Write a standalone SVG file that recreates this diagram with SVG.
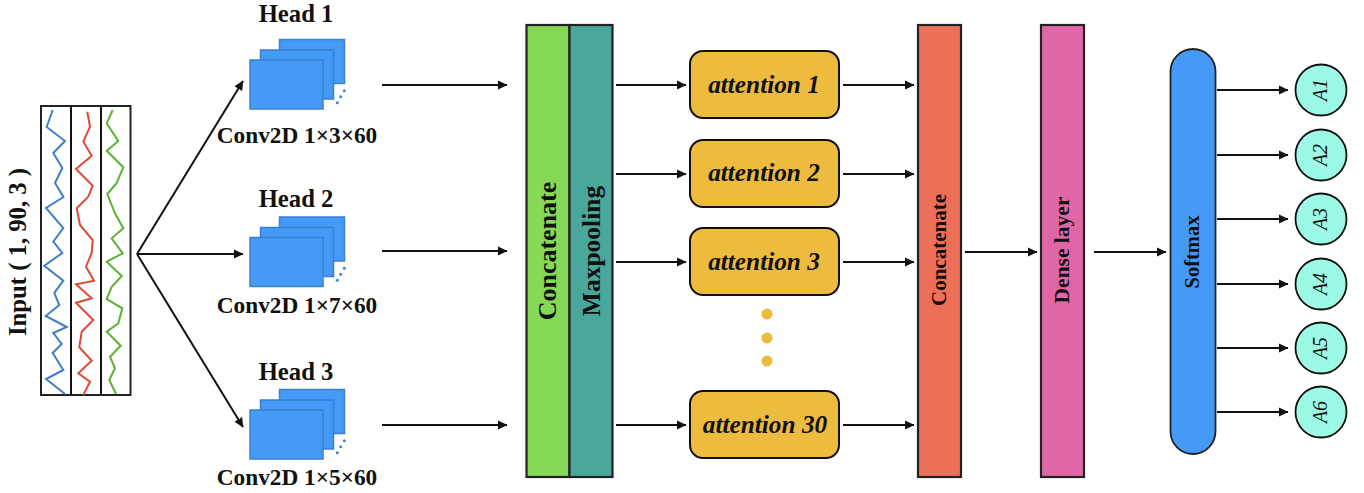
<svg xmlns="http://www.w3.org/2000/svg" width="1364" height="493" viewBox="0 0 1364 493">
<style>
text{font-family:"Liberation Serif","Times New Roman",serif;font-weight:bold;fill:#111}
.b{stroke:#222;stroke-width:2.2}
.c{fill:none;stroke:#111;stroke-width:2}
.l{fill:#449af6;stroke:#3a80d0;stroke-width:1.5}
.t{font-size:24.700px;text-anchor:middle}
.cv{font-size:23.300px;text-anchor:middle}
.at{font-size:25.300px;font-style:italic;text-anchor:middle}
.att{fill:#edbb3d;stroke:#111;stroke-width:2}
.o{fill:#9bf9e6;stroke:#111;stroke-width:1.800}
.ot{font-size:20px;font-style:italic;font-weight:normal;text-anchor:middle}
.d{fill:#3d86d6}
.y{fill:#edbb3d}
.w{fill:none;stroke-width:2}
</style>
<defs><marker id="a" markerUnits="userSpaceOnUse" markerWidth="10" markerHeight="10" refX="9" refY="5" orient="auto"><path d="M0,0.500L9.500,5L0,9.500z" fill="#111"/></marker></defs>
<g id="input">
<rect x="41" y="106" width="89.500" height="289" fill="#fff" stroke="#222" stroke-width="2"/>
<path d="M71,106V395M101,106V395" stroke="#111" stroke-width="2"/>
<polyline class="w" stroke="#3f7fc4" points="52.700,110 46.700,127 65,141 53.300,153 62.300,168 55,183 63.500,197 46,208 63.300,228 53.300,241.700 62.300,253 44.300,265.700 63.300,280.700 54.300,293 59.300,305 45.700,316 66.700,327 53.300,333 61.700,344 52.700,353 63.300,370 46,379 65,394"/>
<polyline class="w" stroke="#df4a36" points="87.300,111.700 90,126.700 83.300,141.700 91.700,155.700 76,169 92.700,185.700 88.300,196.700 76.700,208.300 80,225 92.700,240 91.700,253 86,266.700 94,280.700 76,284.300 91.700,298.300 76,302.700 93.300,320 81.700,331.700 79.300,347.300 91.700,360.700 78.300,373.300 90,381.700 83.300,395"/>
<polyline class="w" stroke="#5bb332" points="112.700,110 106.700,123.300 118.300,141 106.700,150.700 123.300,167.300 116.700,183 107.300,194 115,213.300 123.300,228.300 111.700,238.300 122.700,253.300 106.700,261.700 121.700,276 111.700,286.700 106.700,299 122.300,308.300 118.300,323.300 106.700,331.700 120.700,345.700 110,356.700 115,368.300 109.300,380 116,394"/>
</g>
<text transform="translate(26,252) rotate(-90)" class="t">Input ( 1, 90, 3 )</text>
<g id="head1"><text x="296" y="22" class="t">Head 1</text>
<rect class="l" x="279.500" y="39.500" width="65" height="44"/><rect class="l" x="260.500" y="50" width="73" height="49"/><rect class="l" x="250" y="60" width="73" height="49"/>
<circle class="d" cx="344.300" cy="90.700" r="1.500"/><circle class="d" cx="340.700" cy="96.700" r="1.500"/><circle class="d" cx="337.300" cy="102.700" r="1.500"/>
<text x="297" y="143" class="cv">Conv2D 1×3×60</text></g>
<g id="head2"><text x="296" y="207" class="t">Head 2</text>
<rect class="l" x="279.500" y="217" width="65" height="44"/><rect class="l" x="260.500" y="227.500" width="73" height="49"/><rect class="l" x="250" y="237.500" width="73" height="49"/>
<circle class="d" cx="344.300" cy="268.200" r="1.500"/><circle class="d" cx="340.700" cy="274.200" r="1.500"/><circle class="d" cx="337.300" cy="280.200" r="1.500"/>
<text x="297" y="313" class="cv">Conv2D 1×7×60</text></g>
<g id="head3"><text x="296" y="380" class="t">Head 3</text>
<rect class="l" x="279.500" y="389.500" width="65" height="44"/><rect class="l" x="260.500" y="400" width="73" height="49"/><rect class="l" x="250" y="410" width="73" height="49"/>
<circle class="d" cx="344.300" cy="440.700" r="1.500"/><circle class="d" cx="340.700" cy="446.700" r="1.500"/><circle class="d" cx="337.300" cy="452.700" r="1.500"/>
<text x="297" y="485" class="cv">Conv2D 1×5×60</text></g>
<g id="concat1"><rect class="b" x="526.500" y="25" width="43" height="452" fill="#85d956"/><text transform="translate(556,251) rotate(-90)" style="font-size:26px;text-anchor:middle">Concatenate</text></g>
<g id="maxpool"><rect class="b" x="569.500" y="25" width="43" height="452" fill="#4aa79c"/><text transform="translate(600,251) rotate(-90)" style="font-size:25.500px;text-anchor:middle">Maxpooling</text></g>
<g id="attention1"><rect class="att" x="690" y="51" width="149" height="67" rx="13"/><text x="764" y="93" class="at">attention 1</text></g>
<g id="attention2"><rect class="att" x="690" y="140" width="149" height="67" rx="13"/><text x="764" y="181" class="at">attention 2</text></g>
<g id="attention3"><rect class="att" x="690" y="228" width="149" height="67" rx="13"/><text x="764" y="270" class="at">attention 3</text></g>
<g id="dots"><circle class="y" cx="767" cy="314" r="5.500"/><circle class="y" cx="767" cy="338" r="5.500"/><circle class="y" cx="767" cy="361" r="5.500"/></g>
<g id="attention30"><rect class="att" x="690" y="391" width="149" height="67" rx="13"/><text x="765" y="433" class="at">attention 30</text></g>
<g id="concat2"><rect class="b" x="918" y="25" width="43" height="452" fill="#ee6f57"/><text transform="translate(946,250) rotate(-90)" style="font-size:21px;text-anchor:middle">Concatenate</text></g>
<g id="dense"><rect class="b" x="1041" y="25" width="43" height="452" fill="#e066a5"/><text transform="translate(1069,250) rotate(-90)" style="font-size:21.500px;text-anchor:middle">Dense layer</text></g>
<g id="softmax"><rect x="1170.500" y="49" width="45" height="405" rx="22.500" fill="#449af6" stroke="#222" stroke-width="1.800"/><text transform="translate(1199,252) rotate(-90)" style="font-size:20.500px;text-anchor:middle">Softmax</text></g>
<g id="a1"><circle class="o" cx="1321" cy="90" r="25.500"/><text transform="translate(1327,90) rotate(-90)" class="ot">A1</text></g>
<g id="a2"><circle class="o" cx="1321" cy="155" r="25.500"/><text transform="translate(1327,155) rotate(-90)" class="ot">A2</text></g>
<g id="a3"><circle class="o" cx="1321" cy="219" r="25.500"/><text transform="translate(1327,219) rotate(-90)" class="ot">A3</text></g>
<g id="a4"><circle class="o" cx="1321" cy="284" r="25.500"/><text transform="translate(1327,284) rotate(-90)" class="ot">A4</text></g>
<g id="a5"><circle class="o" cx="1321" cy="348" r="25.500"/><text transform="translate(1327,348) rotate(-90)" class="ot">A5</text></g>
<g id="a6"><circle class="o" cx="1321" cy="412" r="25.500"/><text transform="translate(1327,412) rotate(-90)" class="ot">A6</text></g>
<g id="connectors">
<path class="c" d="M137,254L243,81" marker-end="url(#a)"/><path class="c" d="M137,254L243,254" marker-end="url(#a)"/><path class="c" d="M137,254L243,427" marker-end="url(#a)"/>
<path class="c" d="M382,85H507" marker-end="url(#a)"/><path class="c" d="M382,251H507" marker-end="url(#a)"/><path class="c" d="M382,425H507" marker-end="url(#a)"/>
<path class="c" d="M616,85H686" marker-end="url(#a)"/><path class="c" d="M616,174H686" marker-end="url(#a)"/><path class="c" d="M616,262H686" marker-end="url(#a)"/><path class="c" d="M616,425H686" marker-end="url(#a)"/>
<path class="c" d="M843,85H914" marker-end="url(#a)"/><path class="c" d="M843,174H914" marker-end="url(#a)"/><path class="c" d="M843,262H914" marker-end="url(#a)"/><path class="c" d="M843,425H914" marker-end="url(#a)"/>
<path class="c" d="M965,252H1037" marker-end="url(#a)"/><path class="c" d="M1094,252H1166" marker-end="url(#a)"/>
<path class="c" d="M1217,90H1288" marker-end="url(#a)"/><path class="c" d="M1217,155H1288" marker-end="url(#a)"/><path class="c" d="M1217,219H1288" marker-end="url(#a)"/><path class="c" d="M1217,284H1288" marker-end="url(#a)"/><path class="c" d="M1217,348H1288" marker-end="url(#a)"/><path class="c" d="M1217,412H1288" marker-end="url(#a)"/>
</g>
</svg>
